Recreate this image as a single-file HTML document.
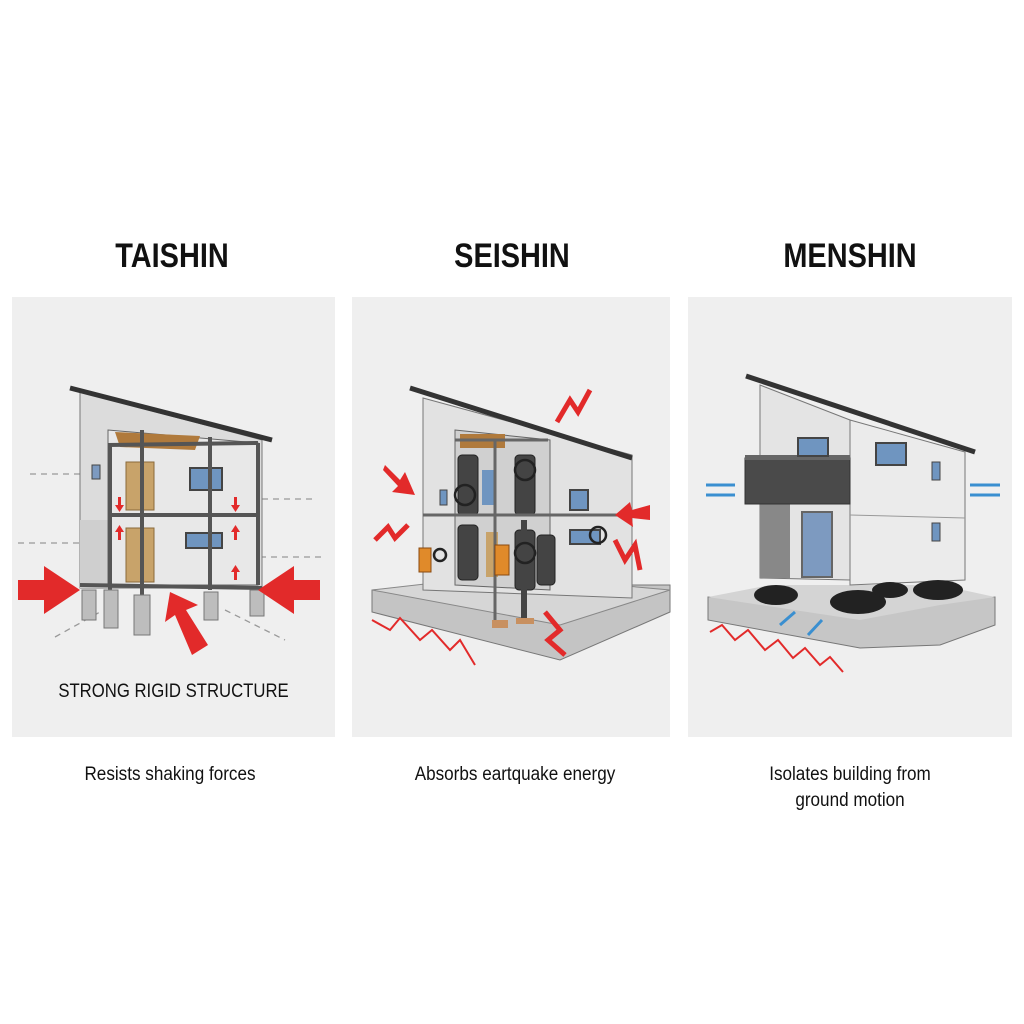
<!DOCTYPE html>
<html><head><meta charset="utf-8"><style>
body{margin:0;width:1024px;height:1024px;background:#fff;overflow:hidden;font-family:"Liberation Sans",sans-serif}
.t{position:absolute;font-weight:bold;font-size:34px;color:#111;text-align:center;transform:scaleX(0.85)}
.c{position:absolute;font-size:19px;color:#111;text-align:center;line-height:26px;transform:scaleX(0.9)}
</style></head><body>
<div class="t" style="left:52px;top:237px;width:240px">TAISHIN</div>
<div class="t" style="left:392px;top:237px;width:240px">SEISHIN</div>
<div class="t" style="left:730px;top:237px;width:240px">MENSHIN</div>
<svg width="1024" height="1024" style="position:absolute;left:0;top:0">
<rect x="12" y="297" width="323" height="440" fill="#efefef"/>
<rect x="352" y="297" width="318" height="440" fill="#efefef"/>
<rect x="688" y="297" width="324" height="440" fill="#efefef"/>
<!-- TAISHIN -->
<g stroke="#999" stroke-dasharray="6,5" stroke-width="1.3"><line x1="30" y1="474" x2="92" y2="474"/><line x1="18" y1="543" x2="82" y2="543"/><line x1="240" y1="499" x2="312" y2="499"/><line x1="238" y1="557" x2="324" y2="557"/><line x1="55" y1="637" x2="100" y2="612"/><line x1="225" y1="610" x2="285" y2="640"/></g>
<polygon points="80,392 262,440 262,588 80,588" fill="#dcdcdc" stroke="#777"/>
<polygon points="80,520 110,520 110,588 80,588" fill="#cfcfcf"/>
<polygon points="108,430 258,443 258,585 108,585" fill="#e8e8e8" stroke="#666"/>
<polygon points="115,432 200,436 195,450 120,447" fill="#b07a3c"/>
<rect x="126" y="462" width="28" height="48" fill="#c8a36a" stroke="#8a6a3a"/>
<rect x="126" y="528" width="28" height="54" fill="#c8a36a" stroke="#8a6a3a"/>
<rect x="190" y="468" width="32" height="22" fill="#6f95c0" stroke="#444" stroke-width="2"/>
<rect x="186" y="533" width="36" height="15" fill="#6f95c0" stroke="#444" stroke-width="2"/>
<rect x="92" y="465" width="8" height="14" fill="#7d9ac0" stroke="#444"/>
<g stroke="#555" stroke-width="4" fill="none"><line x1="110" y1="445" x2="110" y2="590"/><line x1="142" y1="430" x2="142" y2="595"/><line x1="210" y1="437" x2="210" y2="590"/><line x1="258" y1="443" x2="258" y2="585"/><line x1="108" y1="445" x2="258" y2="443"/><line x1="108" y1="515" x2="258" y2="515"/><line x1="80" y1="585" x2="262" y2="588"/></g>
<line x1="70" y1="388" x2="272" y2="440" stroke="#333" stroke-width="5"/>
<g fill="#bdbdbd" stroke="#777"><rect x="82" y="590" width="14" height="30"/><rect x="104" y="590" width="14" height="38"/><rect x="134" y="595" width="16" height="40"/><rect x="204" y="592" width="14" height="28"/><rect x="250" y="590" width="14" height="26"/></g>
<g fill="#e22a2a"><polygon points="18,580 44,580 44,566 80,590 44,614 44,600 18,600"/><polygon points="320,580 294,580 294,566 258,590 294,614 294,600 320,600"/><polygon points="208,645 192,655 175,615 165,622 170,592 198,605 186,610"/>
<g><rect x="118" y="497" width="3" height="10"/><polygon points="115,505 124,505 119.5,512"/><rect x="118" y="530" width="3" height="10"/><polygon points="115,532 124,532 119.5,525"/><rect x="234" y="497" width="3" height="10"/><polygon points="231,505 240,505 235.5,512"/><rect x="234" y="530" width="3" height="10"/><polygon points="231,532 240,532 235.5,525"/><rect x="234" y="570" width="3" height="10"/><polygon points="231,572 240,572 235.5,565"/></g></g>
<!-- SEISHIN -->
<polygon points="372,590 460,585 670,585 670,612 560,660 372,612" fill="#c4c4c4" stroke="#777"/>
<polygon points="372,590 560,625 670,590 560,580 460,580" fill="#d6d6d6" stroke="#888"/>
<polygon points="423,398 632,455 632,598 423,590" fill="#e2e2e2" stroke="#777"/>
<polygon points="455,430 550,440 550,590 455,585" fill="#d0d0d0" stroke="#666"/>
<rect x="460" y="434" width="45" height="14" fill="#b07a3c"/>
<g fill="#444" stroke="#222"><rect x="458" y="455" width="20" height="60" rx="4"/><rect x="515" y="455" width="20" height="60" rx="4"/><rect x="458" y="525" width="20" height="55" rx="4"/><rect x="515" y="530" width="20" height="60" rx="4"/><rect x="537" y="535" width="18" height="50" rx="4"/></g>
<rect x="486" y="532" width="12" height="45" fill="#c8a36a"/>
<rect x="482" y="470" width="12" height="35" fill="#6f95c0"/>
<rect x="570" y="490" width="18" height="20" fill="#6f95c0" stroke="#444" stroke-width="2"/><rect x="570" y="530" width="30" height="14" fill="#6f95c0" stroke="#444" stroke-width="2"/><rect x="440" y="490" width="7" height="15" fill="#6f95c0" stroke="#444"/>
<g stroke="#666" stroke-width="3"><line x1="423" y1="515" x2="632" y2="515"/><line x1="495" y1="440" x2="495" y2="620"/><line x1="455" y1="440" x2="548" y2="440"/></g>
<line x1="524" y1="520" x2="524" y2="620" stroke="#444" stroke-width="6"/>
<rect x="492" y="620" width="16" height="8" fill="#c89060"/><rect x="516" y="618" width="18" height="6" fill="#c89060"/>
<g fill="#e08a2a" stroke="#8a4a10"><rect x="419" y="548" width="12" height="24"/><rect x="495" y="545" width="14" height="30"/></g>
<g fill="none" stroke="#222" stroke-width="2.5"><circle cx="465" cy="495" r="10"/><circle cx="525" cy="470" r="10"/><circle cx="525" cy="553" r="10"/><circle cx="598" cy="535" r="8"/><circle cx="440" cy="555" r="6"/></g>
<line x1="410" y1="388" x2="632" y2="458" stroke="#333" stroke-width="5"/>
<g fill="none" stroke="#e22a2a" stroke-width="5"><polyline points="557,422 570,400 578,412 590,390"/><polyline points="375,540 388,527 395,538 408,525"/><polyline points="615,540 625,560 635,545 640,570"/><polyline points="545,612 560,630 548,640 565,655"/></g>
<g fill="none" stroke="#e22a2a" stroke-width="2"><polyline points="372,620 390,630 400,618 420,640 432,630 450,650 460,640 475,665"/></g>
<polygon points="385,465 400,480 405,472 415,495 392,492 398,486 383,470" fill="#e22a2a"/>
<polygon points="650,505 632,510 630,502 615,515 633,527 632,518 650,520" fill="#e22a2a"/>
<!-- MENSHIN -->
<polygon points="708,597 995,597 995,625 940,645 860,648 708,620" fill="#c6c6c6" stroke="#777"/>
<polygon points="708,597 770,585 940,585 995,597 940,605 860,620" fill="#d4d4d4"/>
<polygon points="760,385 850,420 850,580 760,578" fill="#e4e4e4" stroke="#777"/>
<polygon points="850,420 965,452 965,580 850,585" fill="#ebebeb" stroke="#777"/>
<line x1="850" y1="515" x2="965" y2="518" stroke="#999"/>
<rect x="760" y="500" width="30" height="78" fill="#888"/>
<rect x="745" y="458" width="105" height="46" fill="#4a4a4a" stroke="#333"/>
<rect x="745" y="455" width="105" height="5" fill="#666"/>
<rect x="798" y="438" width="30" height="18" fill="#6f95c0" stroke="#444" stroke-width="2"/>
<rect x="876" y="443" width="30" height="22" fill="#6f95c0" stroke="#444" stroke-width="2"/>
<rect x="932" y="462" width="8" height="18" fill="#6f95c0" stroke="#444"/><rect x="932" y="523" width="8" height="18" fill="#6f95c0" stroke="#444"/>
<rect x="802" y="512" width="30" height="65" fill="#7d9ac0" stroke="#666" stroke-width="2"/>
<line x1="746" y1="376" x2="975" y2="452" stroke="#333" stroke-width="5"/>
<g fill="#222"><ellipse cx="776" cy="595" rx="22" ry="10"/><ellipse cx="858" cy="602" rx="28" ry="12"/><ellipse cx="938" cy="590" rx="25" ry="10"/><ellipse cx="890" cy="590" rx="18" ry="8"/></g>
<g stroke="#3a8fd0" stroke-width="3"><line x1="706" y1="485" x2="735" y2="485"/><line x1="706" y1="495" x2="735" y2="495"/><line x1="970" y1="485" x2="1000" y2="485"/><line x1="970" y1="495" x2="1000" y2="495"/><line x1="780" y1="625" x2="795" y2="612"/><line x1="808" y1="635" x2="822" y2="620"/></g>
<g fill="none" stroke="#e22a2a" stroke-width="2"><polyline points="710,632 722,625 735,640 748,630 765,650 778,640 793,658 805,648 820,665 830,657 843,672"/></g>
</svg>
<div style="position:absolute;left:20px;top:681px;width:307px;text-align:center;font-size:19px;color:#111;transform:scaleX(0.88)">STRONG RIGID STRUCTURE</div>
<div class="c" style="left:40px;top:762px;width:260px">Resists shaking forces</div>
<div class="c" style="left:380px;top:762px;width:270px">Absorbs eartquake energy</div>
<div class="c" style="left:720px;top:762px;width:260px">Isolates building from<br>ground motion</div>
</body></html>
